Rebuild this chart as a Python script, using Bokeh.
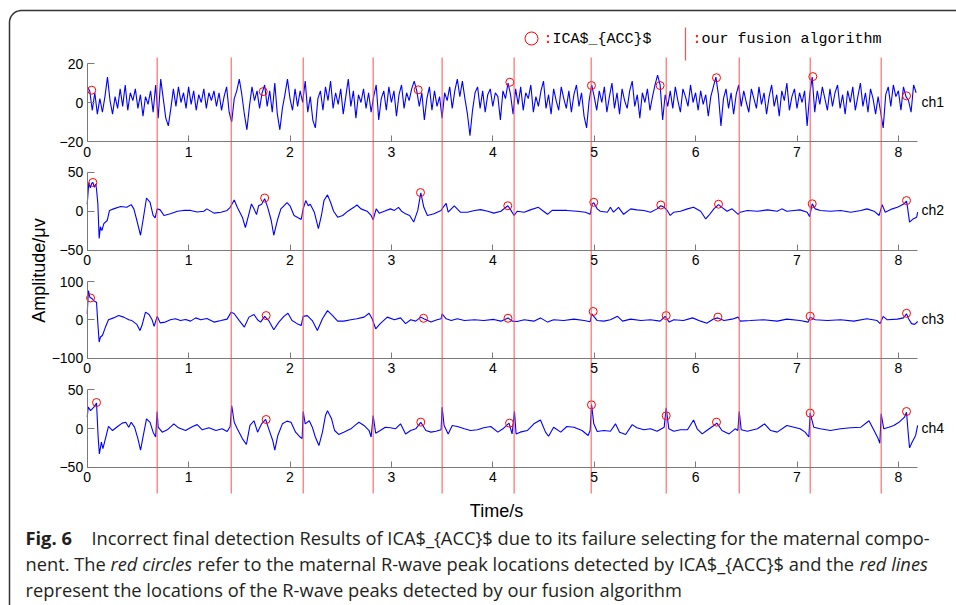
import numpy as np
from bokeh.plotting import figure
from bokeh.models import Range1d, LinearAxis, FixedTicker, Label
from bokeh.embed import file_html
from bokeh.resources import INLINE

# ------------------------------------------------------------------ data
ch1_dt = 0.025
ch1_values = [
    8, 6, -4, 5, -6, 2, -5, 3, 13, 1,
    -6, 3, -3, 7, -2, 9, -4, 5, 1, 7,
    -3, 4, -7, 3, -1, 6, -5, 9, -8, 12,
    2, -8, -12, -3, 7, -2, 8, 0, 5, -3,
    8, -1, 6, -4, 4, 0, 7, -3, 5, 1,
    6, -2, 5, -4, 3, 8, -5, -10, 2, 6,
    12, 4, -6, -14, -2, 8, 1, 6, -3, 5,
    9, -2, 6, -5, 10, -6, -14, -3, 4, 12,
    2, -4, 7, -2, 6, 0, 11, -5, 3, -9,
    -13, 2, 6, -4, 8, 1, 11, -3, 5, -1,
    7, -6, 3, 12, -2, 6, -8, 4, 0, 7,
    -3, 5, -5, 3, 9, -9, 2, 6, -4, 8,
    0, 6, -7, 4, 9, -3, 5, 1, 7, 11,
    6, -2, 5, -9, 2, 8, -4, 6, -2, 3,
    -8, 5, 1, 8, -3, 6, 12, 3, 11, 2,
    -6, -17, -4, 5, 8, -3, 6, -5, 4, 7,
    -2, 5, 3, -9, 6, 2, 10, 4, -6, 7,
    -1, 8, -4, 5, 2, 9, -5, 3, -2, 6,
    11, -3, 4, -6, 7, 1, -4, 8, 2, -3,
    6, -5, 4, 9, -2, 5, -7, -13, 1, 9,
    3, -4, 6, 0, 8, -5, 3, 10, -3, 5,
    -6, 7, 1, -3, 6, 11, -2, 4, -8, 5,
    0, 7, -4, 3, 9, 14, 9, -9, 4, -2,
    6, -3, 8, 1, -5, 7, 3, -2, 9, 0,
    5, -4, 6, -1, 4, -7, 3, 8, 13, 4,
    -12, 2, 7, -3, 5, -6, 4, 9, -2, 6,
    0, -5, 7, 2, -3, 8, -1, 5, -6, 3,
    9, -2, 4, -7, 6, 1, 10, -4, 3, 7,
    -3, 5, 0, 6, -12, 4, 13, -5, 6, -1,
    8, 2, -4, 7, -2, 5, 9, -3, 4, -6,
    6, 0, 8, -4, 3, 10, -2, 5, -5, 7,
    2, -6, 3, -5, -13, 4, 8, -2, 9, 3,
    6, -4, 8, 3, 1, -5, 9, 5,
]

ch2_t = [0.000, 0.016, 0.030, 0.045, 0.056, 0.070, 0.085, 0.092, 0.105, 0.118,
         0.130, 0.145, 0.164, 0.197, 0.220, 0.260, 0.330, 0.390, 0.434, 0.460,
         0.490, 0.526, 0.550, 0.585, 0.620, 0.650, 0.670, 0.690, 0.720, 0.757,
         0.820, 0.890, 0.950, 1.020, 1.085, 1.150, 1.180, 1.250, 1.320, 1.380,
         1.410, 1.450, 1.480, 1.530, 1.560, 1.595, 1.620, 1.645, 1.670, 1.690,
         1.720, 1.750, 1.780, 1.815, 1.840, 1.875, 1.910, 1.940, 1.970, 2.000,
         2.040, 2.080, 2.110, 2.130, 2.155, 2.180, 2.200, 2.240, 2.280, 2.310,
         2.335, 2.370, 2.400, 2.430, 2.470, 2.520, 2.570, 2.630, 2.660, 2.700,
         2.760, 2.800, 2.820, 2.850, 2.880, 2.930, 2.990, 3.030, 3.070, 3.100,
         3.140, 3.180, 3.220, 3.260, 3.290, 3.320, 3.355, 3.420, 3.490, 3.510,
         3.540, 3.560, 3.620, 3.680, 3.750, 3.820, 3.880, 3.950, 4.010, 4.080,
         4.148, 4.170, 4.210, 4.240, 4.310, 4.370, 4.450, 4.500, 4.540, 4.585,
         4.670, 4.730, 4.830, 4.915, 4.960, 4.980, 4.996, 5.030, 5.060, 5.130,
         5.160, 5.190, 5.240, 5.290, 5.360, 5.420, 5.490, 5.555, 5.620, 5.657,
         5.690, 5.720, 5.750, 5.785, 5.850, 5.920, 5.980, 6.050, 6.100, 6.130,
         6.180, 6.226, 6.260, 6.310, 6.360, 6.420, 6.440, 6.510, 6.610, 6.710,
         6.805, 6.850, 6.900, 6.970, 7.030, 7.100, 7.125, 7.150, 7.180, 7.230,
         7.330, 7.430, 7.530, 7.630, 7.690, 7.760, 7.810, 7.840, 7.870, 7.940,
         7.990, 8.020, 8.060, 8.080, 8.090, 8.110, 8.145, 8.180, 8.190]
ch2_v = [9, 37, 30, 36, 37, 31, 35, 28, 10, -35,
         -20, -25, -16, -12, 1, 3, 6, 5, 8.5, 3,
         -12, -31, -12, 17, 11.5, -5.5, -8.5, 3, 1.7, -5.5,
         -3.4, 0, 1, 1, -1, 0, 3, -2.5, -1.3, 1,
         5, 14.5, 5, -7.7, -21, -3.4, 9.4, 3, -4.3, 7,
         9, 16, 5, -12, -31, -12, 3, 7, 11, 7,
         -5.5, -8.5, -10.7, 3, 13.7, 7, 9, -1.3, -22.6, -5.5,
         13.7, 21, 11.5, 0, -7.7, -5.5, 0, 5, 8, 3,
         0, -5.5, -11, 3, -2.5, 0, 3, 1, 5, 0,
         -3.4, -5.5, -14, 1, 23.5, 5, -5.5, -3.4, 1, 5,
         10, -1.3, 7, -1.3, -1.3, 1, 2, 0, -2.5, 0,
         7, 3, -5.5, 0, -1.3, 1.7, 5, 0, -4, 1,
         1, 1, 0, -1.3, -4, 9.4, 11, 3, 0, -1.3,
         5, -1.3, 5, -4, 3, 1.7, 1, -1.3, 3, 7,
         5, 1, -5.5, -1.3, 0, 3, 5, 0, -10, -5.5,
         3, 8.5, 5, 0, 3, -4, -1.3, 1, 0, 1.7,
         0, 3, 0, 1, 1.7, -1.3, -7, 9.4, 3, 1,
         0, 1, -1.3, 1, 3, 0, -5.5, 8.5, -1.3, 3,
         5, 7, 10, 13, 5, -14, -10, -7.7, -1.3]

ch3_t = [0.000, 0.012, 0.026, 0.050, 0.066, 0.092, 0.105, 0.118, 0.130, 0.150,
         0.180, 0.210, 0.260, 0.310, 0.360, 0.410, 0.440, 0.490, 0.520, 0.540,
         0.575, 0.610, 0.640, 0.660, 0.690, 0.720, 0.770, 0.820, 0.870, 0.920,
         0.970, 1.020, 1.070, 1.120, 1.180, 1.250, 1.320, 1.380, 1.420, 1.450,
         1.500, 1.550, 1.595, 1.645, 1.680, 1.710, 1.750, 1.790, 1.840, 1.890,
         1.940, 1.980, 2.020, 2.070, 2.110, 2.130, 2.170, 2.220, 2.270, 2.320,
         2.370, 2.420, 2.470, 2.530, 2.600, 2.660, 2.730, 2.780, 2.810, 2.845,
         2.890, 2.960, 3.030, 3.090, 3.140, 3.190, 3.240, 3.290, 3.320, 3.390,
         3.450, 3.490, 3.500, 3.540, 3.590, 3.650, 3.720, 3.820, 3.910, 4.010,
         4.080, 4.150, 4.190, 4.240, 4.310, 4.405, 4.470, 4.540, 4.600, 4.700,
         4.800, 4.900, 4.960, 4.976, 4.996, 5.030, 5.095, 5.160, 5.230, 5.280,
         5.360, 5.460, 5.555, 5.650, 5.700, 5.740, 5.785, 5.880, 5.970, 6.050,
         6.110, 6.180, 6.220, 6.280, 6.360, 6.420, 6.440, 6.540, 6.670, 6.805,
         6.900, 7.030, 7.110, 7.130, 7.180, 7.300, 7.430, 7.560, 7.690, 7.790,
         7.820, 7.850, 7.890, 7.990, 8.050, 8.080, 8.100, 8.130, 8.160, 8.190]
ch3_v = [15.7, 76, 59, 55, 49, 46, -10, -58, -45, -41,
         -19, 0, 5, 11, 7, 0, -2, -12, -28, -15,
         20, 14, 0, -17, 9, -8, -6, 0, 2.6, -2,
         1, -3.5, 5, 0, 3.5, -6, -2, 1.7, 20, 15.7,
         -2, -19, 7, 14, 0, -6, 9, -2, -26, -6,
         9, 17, -2, -10, -15, 9, 11, -2, -28, 2.6,
         24, 11, -3.5, -3.5, 0, 2.6, 7, 17, 2.6, -23.5,
         -10, 7, 0, 5, -10, 0, -3.5, 7, 2.6, -6,
         0, 2.6, 15.7, 2.6, -2, 2.6, -2, 0, -2, 1,
         -3.5, 5, -3.5, -4.4, 0, -3.5, 5, -6, 0, -2,
         1.7, -2, -5, 15.7, 9, -2, -3.5, 0, 9, -3.5,
         1.7, -2, 0, -3.5, 9, -6, 0, -2, 5, -3.5,
         -9, 2.6, 5, -2, 1.7, 7, -3.5, -2, 0, -3.5,
         1.7, -2, -6, 7, 0, -2, 0, -3.5, 2.6, -2,
         -10, 9, 0, 1.7, 5, 15.7, 2.6, -10, -12, -4.4]

ch4_t = [0.000, 0.010, 0.033, 0.066, 0.092, 0.108, 0.120, 0.140, 0.155, 0.180,
         0.210, 0.250, 0.300, 0.345, 0.380, 0.410, 0.434, 0.467, 0.500, 0.526,
         0.550, 0.585, 0.620, 0.650, 0.675, 0.690, 0.700, 0.740, 0.790, 0.855,
         0.900, 0.970, 1.040, 1.085, 1.135, 1.200, 1.270, 1.330, 1.380, 1.410,
         1.425, 1.450, 1.480, 1.530, 1.570, 1.605, 1.645, 1.680, 1.720, 1.760,
         1.790, 1.830, 1.850, 1.880, 1.925, 1.970, 2.010, 2.055, 2.100, 2.120,
         2.130, 2.150, 2.190, 2.220, 2.250, 2.285, 2.320, 2.350, 2.370, 2.410,
         2.440, 2.480, 2.530, 2.600, 2.650, 2.680, 2.730, 2.780, 2.800, 2.820,
         2.845, 2.890, 2.940, 2.990, 3.040, 3.090, 3.140, 3.190, 3.240, 3.290,
         3.340, 3.390, 3.440, 3.490, 3.500, 3.520, 3.560, 3.600, 3.650, 3.720,
         3.780, 3.850, 3.910, 3.980, 4.050, 4.100, 4.160, 4.190, 4.214, 4.230,
         4.270, 4.340, 4.405, 4.470, 4.520, 4.550, 4.600, 4.670, 4.730, 4.800,
         4.880, 4.940, 4.960, 4.974, 4.996, 5.030, 5.095, 5.160, 5.210, 5.250,
         5.310, 5.375, 5.420, 5.490, 5.555, 5.620, 5.690, 5.710, 5.736, 5.785,
         5.850, 5.920, 5.980, 6.015, 6.065, 6.110, 6.180, 6.210, 6.260, 6.330,
         6.390, 6.417, 6.430, 6.450, 6.510, 6.610, 6.680, 6.740, 6.805, 6.900,
         6.970, 7.030, 7.080, 7.117, 7.130, 7.165, 7.230, 7.330, 7.430, 7.530,
         7.630, 7.710, 7.760, 7.800, 7.817, 7.830, 7.856, 7.905, 7.955, 8.005,
         8.060, 8.080, 8.100, 8.110, 8.135, 8.170, 8.190]
ch4_v = [14.6, 27.5, 23, 27.5, 32.7, -11, -32.7, -17.6, -26, -13,
         2.6, -2.6, 2.6, 6.9, 8, 1.7, 8, 1.7, -13, -28,
         -11, 12.5, 8, -4.7, -11, 22, 1.7, -4.7, -1.7, 6,
         0.9, -2.6, 2.6, 5, -1.7, 0.9, -2.6, -0.4, -3.9, 2.6,
         29.6, 8, -0.4, -13, -20.6, 4, 10, -4.7, 6, 11.6,
         -0.4, -15.5, -28, -9, 6, 9.5, 8, -4.7, -11, -13,
         22, 6, 10, 1.7, -11, -22, -4.7, 16.8, 23, 12.5,
         -2.6, -7.7, -4.7, -0.4, 5, 8, 3.9, -2.6, -11, 16.8,
         -6, -2.6, 1.7, 0.9, -0.4, 6, -7, -2.6, -0.4, 8,
         -2.6, -4.7, -3.5, -1.7, 27.5, 3.9, -7, 3.9, 2.6, -0.4,
         -2.6, -1.7, 0.9, 2.6, -4.7, -0.4, 7, -7, 22, -7,
         -4.7, -2.6, 6, 11, -4.7, -10, 1.7, -4.7, 2.6, 1.7,
         -2.6, -9, -2.6, 31, 6, -3.9, -2.6, -3.5, 6, -4.7,
         -7.7, 5, 0.9, -1.7, -0.4, -3.5, 1.7, 26.6, -0.4, -3.5,
         -1.7, -1.7, 11, -0.4, -7, -2.6, 3.9, 7, -2.6, -7,
         -0.4, -2.6, 22, -1.7, -3.5, -0.4, 6, -2.6, -4.7, 3.9,
         1.7, -0.4, -4.7, -11, 19.8, 1.7, -0.4, -2.6, -0.4, 0.9,
         1.7, 10, -2.6, -13, -19, 19, -0.4, 1.7, 3.9, 8,
         14.6, 21, -11, -25, -17.6, -9, 3.9]

# R-wave peaks of the fusion algorithm (red lines), seconds
fusion_peaks = [0.69, 1.42, 2.13, 2.82, 3.50, 4.21, 4.97, 5.71, 6.43, 7.13, 7.83]

# ICA_ACC detections (red circles)
ch1_circ_t = [0.045, 1.736, 3.264, 4.168, 4.973, 5.650, 6.206, 7.156, 8.080]
ch1_circ_v = [6.3, 5.6, 6.5, 10.4, 8.7, 8.7, 12.7, 13.3, 3.4]
ch2_circ_t = [0.056, 1.750, 3.287, 4.148, 4.996, 5.657, 6.226, 7.150, 8.080]
ch2_circ_v = [37, 17, 24, 7, 11.5, 8, 9, 9.5, 13.7]
ch3_circ_t = [0.033, 1.765, 3.317, 4.150, 4.990, 5.710, 6.220, 7.130, 8.080]
ch3_circ_v = [57, 11, 4, 4, 21.7, 11, 7, 9.4, 17]
ch4_circ_t = [0.092, 1.765, 3.290, 4.165, 4.973, 5.710, 6.206, 7.130, 8.080]
ch4_circ_v = [33.5, 11.6, 8.2, 6.9, 30.5, 16.4, 8.2, 19.8, 21.9]

channel_names = ["ch1", "ch2", "ch3", "ch4"]
y_ticks = {"ch1": [-20, 0, 20], "ch2": [-50, 0, 50], "ch3": [-100, 0, 100], "ch4": [-50, 0, 50]}
x_ticks = [0, 1, 2, 3, 4, 5, 6, 7, 8]
t_end = 8.19

# ------------------------------------------------------------------ layout (page pixels)
W, H = 956, 605
PAGE = 0                      # figure origin on the page
T0_X = 86.7                   # page x of t = 0
PX_PER_S = 101.4
PANEL = {                     # page y of zero, pixels per unit
    "ch1": (102.0, 39.0 / 20),
    "ch2": (210.7, 38.8 / 50),
    "ch3": (319.3, 38.3 / 100),
    "ch4": (428.0, 38.8 / 50),
}
RL_TOP, RL_BOT = 57, 493
GREY = "#7a7a7a"
BLUE = "#0000ff"
RED = "#ff0000"
REDLINE = "#ff5050"
TXT = "#231f20"

p = figure(width=W, height=H, output_backend="svg", toolbar_location=None,
           x_axis_type=None, y_axis_type=None, min_border=0,
           x_range=Range1d(PAGE, PAGE + W), y_range=Range1d(PAGE + H, PAGE))
p.outline_line_color = None
p.grid.visible = False
p.background_fill_color = "white"
p.border_fill_color = "white"

p.extra_x_ranges = {"t": Range1d((PAGE - T0_X) / PX_PER_S, (PAGE + W - T0_X) / PX_PER_S)}
p.extra_y_ranges = {ch: Range1d((z - (PAGE + H)) / s, (z - PAGE) / s) for ch, (z, s) in PANEL.items()}

# frame border (rounded top-left corner)
R = 12
th = np.linspace(np.pi, 1.5 * np.pi, 20)
bx = [9] + list(9 + R + R * np.cos(th)) + [PAGE + W]
by = [PAGE + H] + list(10 + R + R * np.sin(th)) + [10]
p.line(bx, by, line_color="#333333", line_width=1.5)

series = {
    "ch1": (list(np.arange(len(ch1_values)) * ch1_dt), ch1_values, ch1_circ_t, ch1_circ_v),
    "ch2": (ch2_t, ch2_v, ch2_circ_t, ch2_circ_v),
    "ch3": (ch3_t, ch3_v, ch3_circ_t, ch3_circ_v),
    "ch4": (ch4_t, ch4_v, ch4_circ_t, ch4_circ_v),
}

for ch in channel_names:
    ts, vs, ct, cv = series[ch]
    lo, hi = y_ticks[ch][0], y_ticks[ch][-1]
    yax = LinearAxis(x_range_name="t", y_range_name=ch, fixed_location=0,
                     ticker=FixedTicker(ticks=y_ticks[ch]), bounds=(lo, hi))
    xax = LinearAxis(x_range_name="t", y_range_name=ch, fixed_location=lo,
                     ticker=FixedTicker(ticks=x_ticks), bounds=(0, t_end))
    for ax, tin, so in ((yax, 7, 4), (xax, 6, 5)):
        ax.major_tick_in = tin
        ax.major_tick_out = 0
        ax.minor_tick_in = 0
        ax.minor_tick_out = 0
        ax.axis_line_color = GREY
        ax.major_tick_line_color = GREY
        ax.axis_line_width = 1
        ax.major_label_text_font = "Liberation Sans"
        ax.major_label_text_font_size = "14px"
        ax.major_label_text_color = "#000000"
        ax.major_label_standoff = so
    p.add_layout(yax, "left")
    p.add_layout(xax, "below")

    p.line(ts, vs, x_range_name="t", y_range_name=ch, line_color=BLUE, line_width=1.1)
    p.scatter(ct, cv, x_range_name="t", y_range_name=ch, marker="circle", size=8,
              fill_color=None, line_color=RED, line_width=1)
    z, s = PANEL[ch]
    p.add_layout(Label(x=921, y=z - 1, text=ch, text_font="Liberation Sans",
                       text_font_size="14px", text_color="#000000",
                       text_baseline="middle", text_align="left"))

# fusion algorithm peaks
p.segment(x0=fusion_peaks, x1=fusion_peaks, y0=RL_TOP, y1=RL_BOT, x_range_name="t",
          line_color=REDLINE, line_width=1)

# legend
p.scatter([531], [38], marker="circle", size=13, fill_color=None, line_color=RED, line_width=1)
p.segment(x0=[685], x1=[685], y0=[27], y1=[60], line_color=REDLINE, line_width=1.2)
mono = dict(text_font="Liberation Mono", text_font_size="15px", text_baseline="middle",
            text_align="left")
p.add_layout(Label(x=543, y=39, text=":", text_color=RED, **mono))
p.add_layout(Label(x=552, y=39, text="ICA$_{ACC}$", text_color="#000000", **mono))
p.add_layout(Label(x=692, y=39, text=":", text_color=RED, **mono))
p.add_layout(Label(x=701, y=39, text="our fusion algorithm", text_color="#000000", **mono))

# axis titles
p.add_layout(Label(x=496, y=510, text="Time/s", text_font="Liberation Sans",
                   text_font_size="18px", text_color="#000000",
                   text_align="center", text_baseline="middle"))
p.add_layout(Label(x=38, y=270, text="Amplitude/\u03bcv", text_font="Liberation Sans",
                   text_font_size="18px", text_color="#000000", angle=np.pi / 2,
                   text_align="center", text_baseline="middle"))

# caption
cap = dict(text_font="Open Sans", text_font_size="18.3px", text_color=TXT,
           text_baseline="middle", text_align="left")
L1, L2, L3 = 537, 563, 589
p.add_layout(Label(x=25, y=L1, text="Fig. 6", text_font_style="bold", **cap))
p.add_layout(Label(x=91, y=L1, text="Incorrect final detection Results of ICA$_{ACC}$ due to its "
                   "failure selecting for the maternal compo-", **cap))
p.add_layout(Label(x=25, y=L2, text="nent. The", **cap))
p.add_layout(Label(x=110, y=L2, text="red circles", text_font_style="italic", **cap))
p.add_layout(Label(x=197, y=L2, text="refer to the maternal R-wave peak locations detected by "
                   "ICA$_{ACC}$ and the", **cap))
p.add_layout(Label(x=859, y=L2, text="red lines", text_font_style="italic", **cap))
p.add_layout(Label(x=25, y=L3, text="represent the locations of the R-wave peaks detected by our "
                   "fusion algorithm", **cap))

open("out.html", "w").write(file_html(p, INLINE))
